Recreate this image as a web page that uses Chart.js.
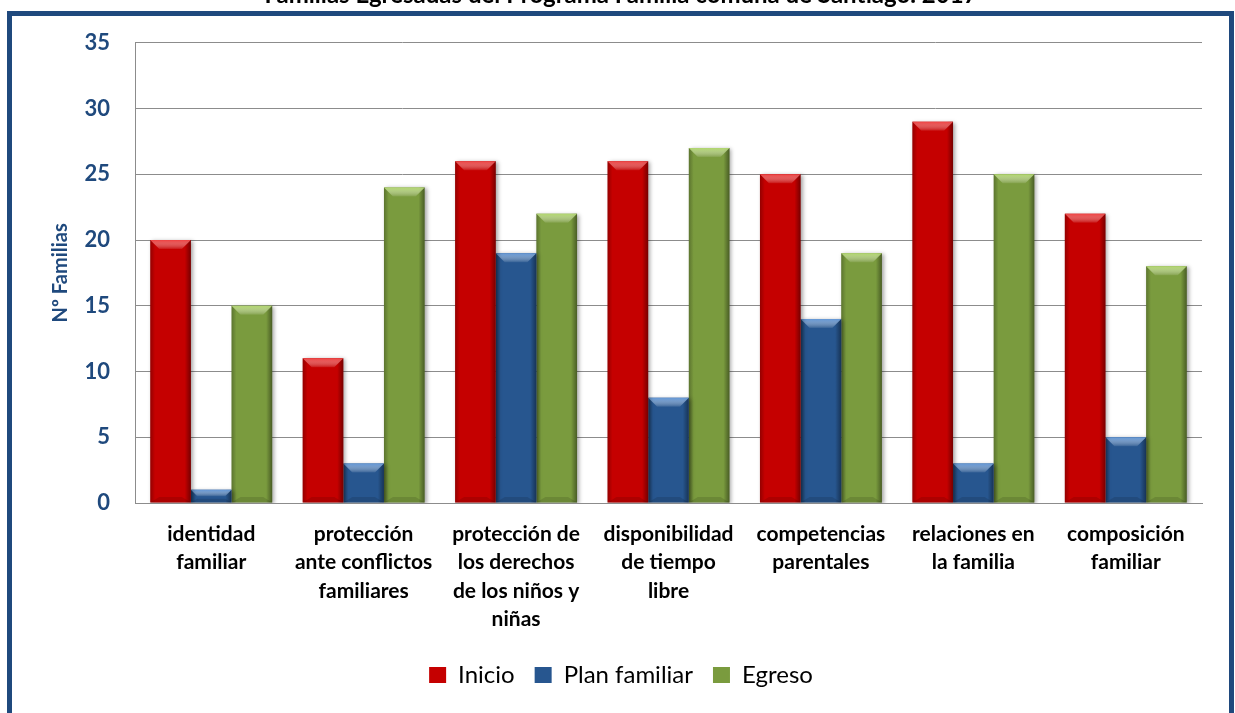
<!DOCTYPE html>
<html>
<head>
<meta charset="utf-8">
<script src="https://cdn.jsdelivr.net/npm/chart.js@4"></script>
<style>
  html, body { margin: 0; padding: 0; background: #fff; overflow: hidden; }
  body { width: 1235px; height: 713px; position: relative; }
  #marco {
    position: absolute; left: 7px; top: 11px; width: 1217px; height: 720px;
    border: 5px solid #1f497d; box-sizing: content-box;
  }
  #lienzo { position: absolute; left: 0; top: -24px; width: 1235px; height: 737px; }
</style>
</head>
<body>
<div id="marco"></div>
<div id="lienzo"><canvas id="grafico"></canvas></div>
<script>
// Datos
const categorias = [
  ["identidad", "familiar"],
  ["protección", "ante conflictos", "familiares"],
  ["protección de", "los derechos", "de los niños y", "niñas"],
  ["disponibilidad", "de tiempo", "libre"],
  ["competencias", "parentales"],
  ["relaciones en", "la familia"],
  ["composición", "familiar"]
];
const inicio = [20, 11, 26, 26, 25, 29, 22];
const planFamiliar = [1, 3, 19, 8, 14, 3, 5];
const egreso = [15, 24, 22, 27, 19, 25, 18];
const ticksY = [0, 5, 10, 15, 20, 25, 30, 35];

const azulTexto = "#1f497d";

// efecto biselado sobre cada barra (como el estilo de Excel)
const biselPlugin = {
  id: "bisel",
  beforeDatasetDraw(chart) {
    const ctx = chart.ctx;
    ctx.save();
    ctx.shadowColor = "rgba(0,0,0,0.35)";
    ctx.shadowBlur = 4;
    ctx.shadowOffsetX = 2;
    ctx.shadowOffsetY = 1;
  },
  afterDatasetDraw(chart, args) {
    const ctx = chart.ctx;
    ctx.restore();
    const claro = chart.data.datasets[args.index].claro;
    args.meta.data.forEach(function(bar) {
      const p = bar.getProps(["x", "y", "base", "width"], true);
      const l = p.x - p.width / 2, r = p.x + p.width / 2;
      const t = Math.min(p.y, p.base), b = Math.max(p.y, p.base);
      const h = b - t;
      const bv = Math.min(9, h / 2);
      ctx.save();
      // bordes laterales oscuros
      const g = ctx.createLinearGradient(l, 0, r, 0);
      g.addColorStop(0, "rgba(0,0,0,0.25)");
      g.addColorStop(0.12, "rgba(0,0,0,0)");
      g.addColorStop(0.85, "rgba(0,0,0,0)");
      g.addColorStop(1, "rgba(0,0,0,0.4)");
      ctx.fillStyle = g;
      ctx.fillRect(l, t, r - l, h);
      // bisel superior claro, degradado hacia el color de la barra
      const gt = ctx.createLinearGradient(0, t, 0, t + bv);
      gt.addColorStop(0, claro);
      gt.addColorStop(1, "rgba(255,255,255,0.08)");
      ctx.beginPath();
      ctx.moveTo(l, t);
      ctx.lineTo(r, t);
      ctx.lineTo(r - bv, t + bv);
      ctx.lineTo(l + bv, t + bv);
      ctx.closePath();
      ctx.fillStyle = gt;
      ctx.fill();
      // bisel inferior oscuro
      ctx.beginPath();
      ctx.moveTo(l, b);
      ctx.lineTo(r, b);
      ctx.lineTo(r - bv, b - bv * 0.6);
      ctx.lineTo(l + bv, b - bv * 0.6);
      ctx.closePath();
      ctx.fillStyle = "rgba(0,0,0,0.12)";
      ctx.fill();
      ctx.restore();
    });
  }
};

const ctx = document.getElementById("grafico").getContext("2d");
new Chart(ctx, {
  type: "bar",
  data: {
    labels: categorias,
    datasets: [
      { label: "Inicio", data: inicio, backgroundColor: "#c50000", claro: "#ef4040",
        borderWidth: 0 },
      { label: "Plan familiar", data: planFamiliar, backgroundColor: "#27568f", claro: "#6196d6",
        borderWidth: 0 },
      { label: "Egreso", data: egreso, backgroundColor: "#7a9b3e", claro: "#b0d66c",
        borderWidth: 0 }
    ]
  },
  options: {
    responsive: true,
    maintainAspectRatio: false,
    animation: false,
    layout: { padding: { left: 40, right: 33, top: 0, bottom: 16 } },
    datasets: { bar: { categoryPercentage: 0.8, barPercentage: 1.0 } },
    scales: {
      x: {
        grid: { display: false, drawTicks: false },
        border: { display: true, color: "#8c8c8c", width: 1 },
        ticks: {
          color: "#000",
          font: { family: "Lato", weight: "bold", size: 21, lineHeight: 1.35 },
          padding: 17,
          maxRotation: 0,
          autoSkip: false
        },
        afterFit(scale) { scale.height = 140; }
      },
      y: {
        min: 0,
        max: 35,
        afterBuildTicks(scale) { scale.ticks = ticksY.map(v => ({ value: v })); },
        grid: { color: "#8c8c8c", lineWidth: 1, drawTicks: false },
        border: { display: true, color: "#8c8c8c", width: 1 },
        ticks: {
          color: azulTexto,
          font: { family: "Lato", weight: "bold", size: 22 },
          padding: 25
        },
        title: {
          display: true,
          text: "Nº Familias",
          color: azulTexto,
          font: { family: "Lato", weight: "bold", size: 20 },
          padding: { top: 9, bottom: 0 }
        },
        afterFit(scale) { scale.width = 95; }
      }
    },
    plugins: {
      title: {
        display: true,
        text: "Familias Egresadas del Programa Familia comuna de Santiago. 2017",
        color: "#000",
        font: { family: "Lato", weight: "bold", size: 24 },
        padding: { top: 5, bottom: 33 }
      },
      legend: {
        position: "bottom",
        labels: {
          color: "#000",
          font: { family: "Lato", size: 24 },
          boxWidth: 17,
          boxHeight: 16,
          padding: 20
        }
      },
      tooltip: { enabled: false }
    }
  },
  plugins: [biselPlugin]
});
</script>
</body>
</html>
